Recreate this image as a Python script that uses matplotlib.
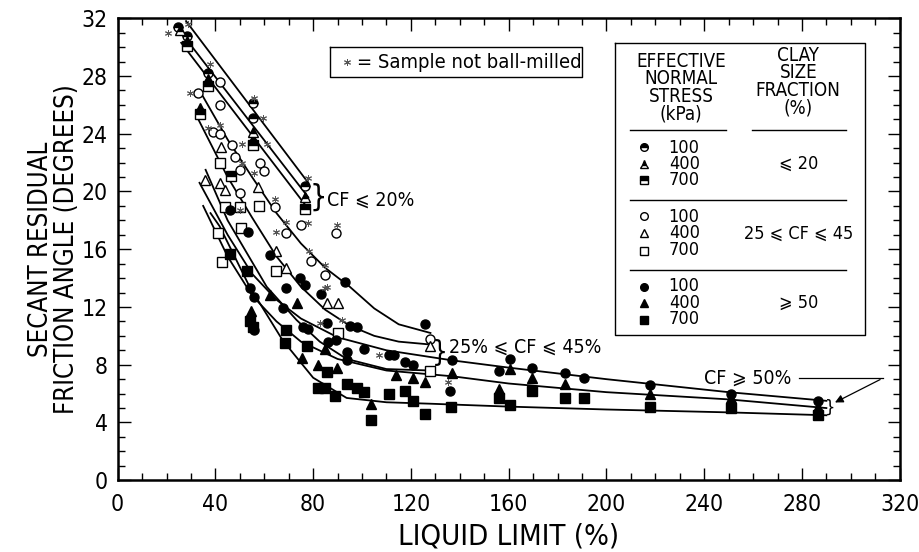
import numpy as np
import matplotlib
matplotlib.use("Agg")
import matplotlib.pyplot as plt
from matplotlib.ticker import MultipleLocator

plt.rcParams['font.family'] = ['DejaVu Sans']
plt.rcParams['font.stretch'] = 'condensed'

# ---- data: CF <= 20 % (half-filled symbols)
cf20_100_x = [24.5, 28.2, 36.8, 55.2, 55.2, 76.5]
cf20_100_y = [31.4, 30.8, 28.2, 26.1, 25.1, 20.4]
cf20_400_x = [25.5, 28.2, 36.8, 33.5, 55.2, 55.2, 76.5]
cf20_400_y = [31.2, 30.4, 27.8, 25.8, 24.1, 23.6, 19.6]
cf20_700_x = [28.2, 36.8, 33.5, 55.2, 46.5, 76.5]
cf20_700_y = [30.1, 27.3, 25.4, 23.2, 21.1, 18.8]

# ---- data: 25 <= CF <= 45 % (open symbols)
cf45_100_x = [32.7, 41.7, 41.7, 38.9, 41.7, 47.0, 47.9, 50.0, 58.1, 60.0, 50.0, 64.2,
              69.0, 75.2, 79.3, 84.7, 89.5, 127.7]
cf45_100_y = [26.8, 27.6, 26.0, 24.1, 24.0, 23.2, 22.4, 21.5, 22.0, 21.4, 19.9, 18.9,
              17.1, 17.7, 15.2, 14.2, 17.1, 9.8]
cf45_400_x = [42.4, 57.3, 41.7, 43.8, 35.6, 65.0, 69.0, 85.5, 90.0, 127.7]
cf45_400_y = [23.1, 20.3, 20.6, 20.1, 20.8, 15.9, 14.7, 12.3, 12.3, 9.3]
cf45_700_x = [41.7, 43.8, 50.0, 58.0, 50.6, 41.0, 42.5, 65.0, 90.0, 127.7]
cf45_700_y = [22.0, 18.9, 18.9, 19.0, 17.5, 17.1, 15.1, 14.5, 10.2, 7.6]

# ---- data: CF >= 50 % (filled symbols)
cf50_100_x = [45.8, 53.2, 62.2, 69.0, 74.5, 76.5, 83.3, 54.0, 56.0, 92.9, 67.5, 75.7,
              77.7, 85.5, 94.9, 97.8, 101.0, 111.0, 113.0, 117.4, 120.7, 54.0, 56.0,
              94.0, 94.0, 86.0, 89.5, 125.6, 137.0, 156.0, 160.4, 169.4, 183.0, 191.0,
              217.7, 251.0, 286.4, 135.8]
cf50_100_y = [18.7, 17.2, 15.6, 13.3, 14.0, 13.5, 12.9, 13.3, 12.7, 13.7, 11.9, 10.6,
              10.5, 10.9, 10.7, 10.6, 9.1, 8.7, 8.7, 8.2, 8.0, 11.1, 10.4,
              8.9, 8.3, 9.6, 9.7, 10.8, 8.3, 7.6, 8.4, 7.8, 7.4, 7.1,
              6.6, 6.0, 5.5, 6.2]
cf50_400_x = [54.5, 62.2, 75.3, 84.7, 81.8, 89.6, 114.0, 120.7, 125.6, 137.0, 156.0,
              160.4, 169.4, 183.0, 217.7, 251.0, 286.4, 103.8, 73.5]
cf50_400_y = [11.7, 12.8, 8.5, 9.1, 8.0, 7.8, 7.3, 7.1, 6.8, 7.4, 6.3,
              7.7, 7.1, 6.7, 6.0, 5.7, 5.1, 5.3, 12.3]
cf50_700_x = [45.8, 52.8, 54.0, 55.5, 69.0, 68.3, 77.3, 85.5, 81.8, 84.7, 88.8, 94.0,
              97.8, 101.0, 111.0, 117.4, 120.7, 125.6, 103.8, 136.6, 156.0, 160.4,
              169.4, 183.0, 191.0, 217.7, 251.0, 286.4]
cf50_700_y = [15.7, 14.5, 11.0, 10.6, 10.4, 9.5, 9.3, 7.5, 6.4, 6.4, 5.8, 6.7,
              6.4, 6.1, 6.0, 6.2, 5.5, 4.6, 4.2, 5.1, 5.7, 5.2,
              6.2, 5.7, 5.7, 5.1, 5.0, 4.5]

# ---- samples not ball-milled
nbm_x = [20.5, 28.6, 37.6, 29.5, 56.0, 59.4, 36.8, 41.7, 51.0, 51.0, 56.0, 61.0, 77.7,
         64.2, 69.0, 77.7, 50.0, 89.6, 78.5, 84.7, 65.0, 84.7, 85.5, 82.7, 92.0, 107.0,
         135.0]
nbm_y = [31.0, 31.6, 28.8, 26.8, 26.5, 25.1, 24.4, 24.6, 23.3, 22.0, 21.3, 23.3, 20.9,
         19.5, 17.9, 17.8, 18.7, 17.7, 15.9, 14.9, 17.2, 13.3, 13.4, 10.9, 11.1, 8.7,
         6.8]

# ---- trend curves
c20_100_x = [28.0, 78.0]
c20_100_y = [31.8, 20.6]
c20_400_x = [26.0, 78.0]
c20_400_y = [31.0, 19.6]
c20_700_x = [26.0, 78.0]
c20_700_y = [30.3, 18.8]

c45_100_x = [33.5, 45, 55, 65, 75, 85, 95, 105, 115, 128]
c45_100_y = [27.0, 23.6, 21.0, 18.5, 16.4, 14.7, 13.4, 11.9, 10.8, 10.2]
c45_400_x = [33.0, 45, 55, 65, 75, 85, 95, 105, 115, 128]
c45_400_y = [25.0, 21.0, 18.2, 15.5, 13.4, 11.8, 10.7, 10.0, 9.6, 9.4]
c45_700_x = [36.0, 45, 61, 73.2, 82.7, 93.7, 110, 128]
c45_700_y = [21.5, 18.0, 13.4, 11.1, 9.6, 8.4, 7.7, 7.6]

c50_100_x = [33.5, 45, 55, 65, 75, 90, 110, 137, 160, 200, 250, 290]
c50_100_y = [20.6, 17.0, 14.3, 12.5, 11.2, 9.9, 9.0, 8.3, 7.8, 7.0, 6.1, 5.5]
c50_400_x = [35.0, 45, 55, 65, 75, 90, 110, 137, 160, 200, 250, 290]
c50_400_y = [19.0, 15.5, 12.8, 11.0, 9.6, 8.4, 7.6, 7.2, 6.7, 6.1, 5.6, 5.0]
c50_700_x = [38.0, 41.7, 54, 67.5, 80, 93.7, 110, 128, 160, 200, 250, 290]
c50_700_y = [18.5, 17.6, 13.4, 9.7, 7.1, 5.7, 5.4, 5.3, 5.1, 4.9, 4.7, 4.5]

stress_labels = '100\n400\n700'
cf_labels = ['⩽ 20', '25 ⩽ CF ⩽ 45', '⩾ 50']

fig = plt.figure(figsize=(9.19, 5.52), dpi=100)
ax = fig.add_axes([0.128, 0.130, 0.851, 0.837])

line_kw = dict(color='black', lw=1.3, zorder=2)
for cx, cy in [(c20_100_x, c20_100_y), (c20_400_x, c20_400_y), (c20_700_x, c20_700_y),
               (c45_100_x, c45_100_y), (c45_400_x, c45_400_y), (c45_700_x, c45_700_y),
               (c50_100_x, c50_100_y), (c50_400_x, c50_400_y), (c50_700_x, c50_700_y)]:
    ax.plot(cx, cy, **line_kw)

ms = 6.5
half = dict(ls='none', color='black', mfc='black', mec='black', fillstyle='top',
            mfcalt='white', mew=1.0, ms=ms, zorder=3)
ax.plot(cf20_100_x, cf20_100_y, marker='o', **half)
ax.plot(cf20_400_x, cf20_400_y, marker='^', **half)
ax.plot(cf20_700_x, cf20_700_y, marker='s', **half)

opn = dict(ls='none', mfc='white', mec='black', mew=1.0, ms=ms, zorder=3)
ax.plot(cf45_100_x, cf45_100_y, marker='o', **opn)
ax.plot(cf45_400_x, cf45_400_y, marker='^', **opn)
ax.plot(cf45_700_x, cf45_700_y, marker='s', **opn)

fil = dict(ls='none', mfc='black', mec='black', mew=1.0, ms=ms, zorder=3)
ax.plot(cf50_100_x, cf50_100_y, marker='o', **fil)
ax.plot(cf50_400_x, cf50_400_y, marker='^', **fil)
ax.plot(cf50_700_x, cf50_700_y, marker='s', **fil)

ax.plot(nbm_x, nbm_y, ls='none', marker=(6, 2, 0), ms=5, mec='#555555', mew=0.7, zorder=4)

# axes styling
ax.set_xlim(0, 320)
ax.set_ylim(0, 32)
ax.xaxis.set_major_locator(MultipleLocator(40))
ax.xaxis.set_minor_locator(MultipleLocator(10))
ax.yaxis.set_major_locator(MultipleLocator(4))
ax.yaxis.set_minor_locator(MultipleLocator(1))
ax.tick_params(which='both', direction='in', top=True, right=True, width=1.0)
ax.tick_params(which='major', length=9, labelsize=16.5)
ax.tick_params(axis='x', which='major', pad=9)
ax.tick_params(axis='y', which='major', pad=7)
ax.tick_params(which='minor', length=5)
for s in ax.spines.values():
    s.set_linewidth(1.8)
ax.set_xlabel('LIQUID LIMIT (%)', fontsize=21, labelpad=5)
ax.set_ylabel('SECANT RESIDUAL\nFRICTION ANGLE (DEGREES)', fontsize=18.5, labelpad=1,
              linespacing=1.0)

# annotations
ax.text(78.5, 19.6, '}', fontsize=22, va='center', ha='left', fontweight='light')
ax.text(85.5, 19.4, 'CF ⩽ 20%', fontsize=14, va='center', ha='left')
ax.text(128.5, 8.8, '}', fontsize=20, va='center', ha='left')
ax.text(135.5, 9.2, '25% ⩽ CF ⩽ 45%', fontsize=14, va='center', ha='left')
ax.text(240, 7.1, 'CF ⩾ 50%', fontsize=14, va='center', ha='left')
ax.plot([279, 313], [7.06, 7.06], color='black', lw=0.9)
ax.annotate('', xy=(292.5, 5.3), xytext=(313, 7.06),
            arrowprops=dict(arrowstyle='-|>', color='black', lw=0.9, mutation_scale=12))
ax.text(289.5, 5.0, '}', fontsize=13, va='center', ha='left')

# "not ball-milled" key box
ax.plot([87, 190, 190, 87, 87], [30.0, 30.0, 27.9, 27.9, 30.0], color='black', lw=1.0)
ax.plot([94], [28.95], ls='none', marker=(6, 2, 0), ms=5, mec='#555555', mew=0.7)
ax.text(98, 28.95, '= Sample not ball-milled', fontsize=14.5, va='center', ha='left')

# legend table
ax.plot([203.4, 306, 306, 203.4, 203.4], [30.26, 30.26, 10.04, 10.04, 30.26],
        color='black', lw=1.0)
ax.text(230.5, 27.2, 'EFFECTIVE\nNORMAL\nSTRESS\n(kPa)', fontsize=13.5, ha='center',
        va='center', linespacing=0.9)
ax.text(278.5, 27.6, 'CLAY\nSIZE\nFRACTION\n(%)', fontsize=13.5, ha='center',
        va='center', linespacing=0.9)
ax.plot([209.5, 249], [24.25, 24.25], color='black', lw=1.0)
ax.plot([259.5, 298], [24.25, 24.25], color='black', lw=1.0)
ax.plot([209.5, 298], [19.4, 19.4], color='black', lw=1.0)
ax.plot([209.5, 298], [14.55, 14.55], color='black', lw=1.0)

row_y = [[23.1, 21.9, 20.8], [18.3, 17.1, 15.9], [13.4, 12.3, 11.1]]
for ys, sty, lab in zip(row_y, [half, opn, fil], cf_labels):
    for mk, yy in zip(['o', '^', 's'], ys):
        kw = dict(sty)
        kw['ms'] = 5.5
        ax.plot([215.5], [yy], marker=mk, **kw)
    ax.text(225.5, ys[1], stress_labels, fontsize=13, va='center', ha='left',
            linespacing=0.88)
    ax.text(278.5, ys[1], lab, fontsize=13, va='center', ha='center')

fig.savefig('out.png', dpi=100)
